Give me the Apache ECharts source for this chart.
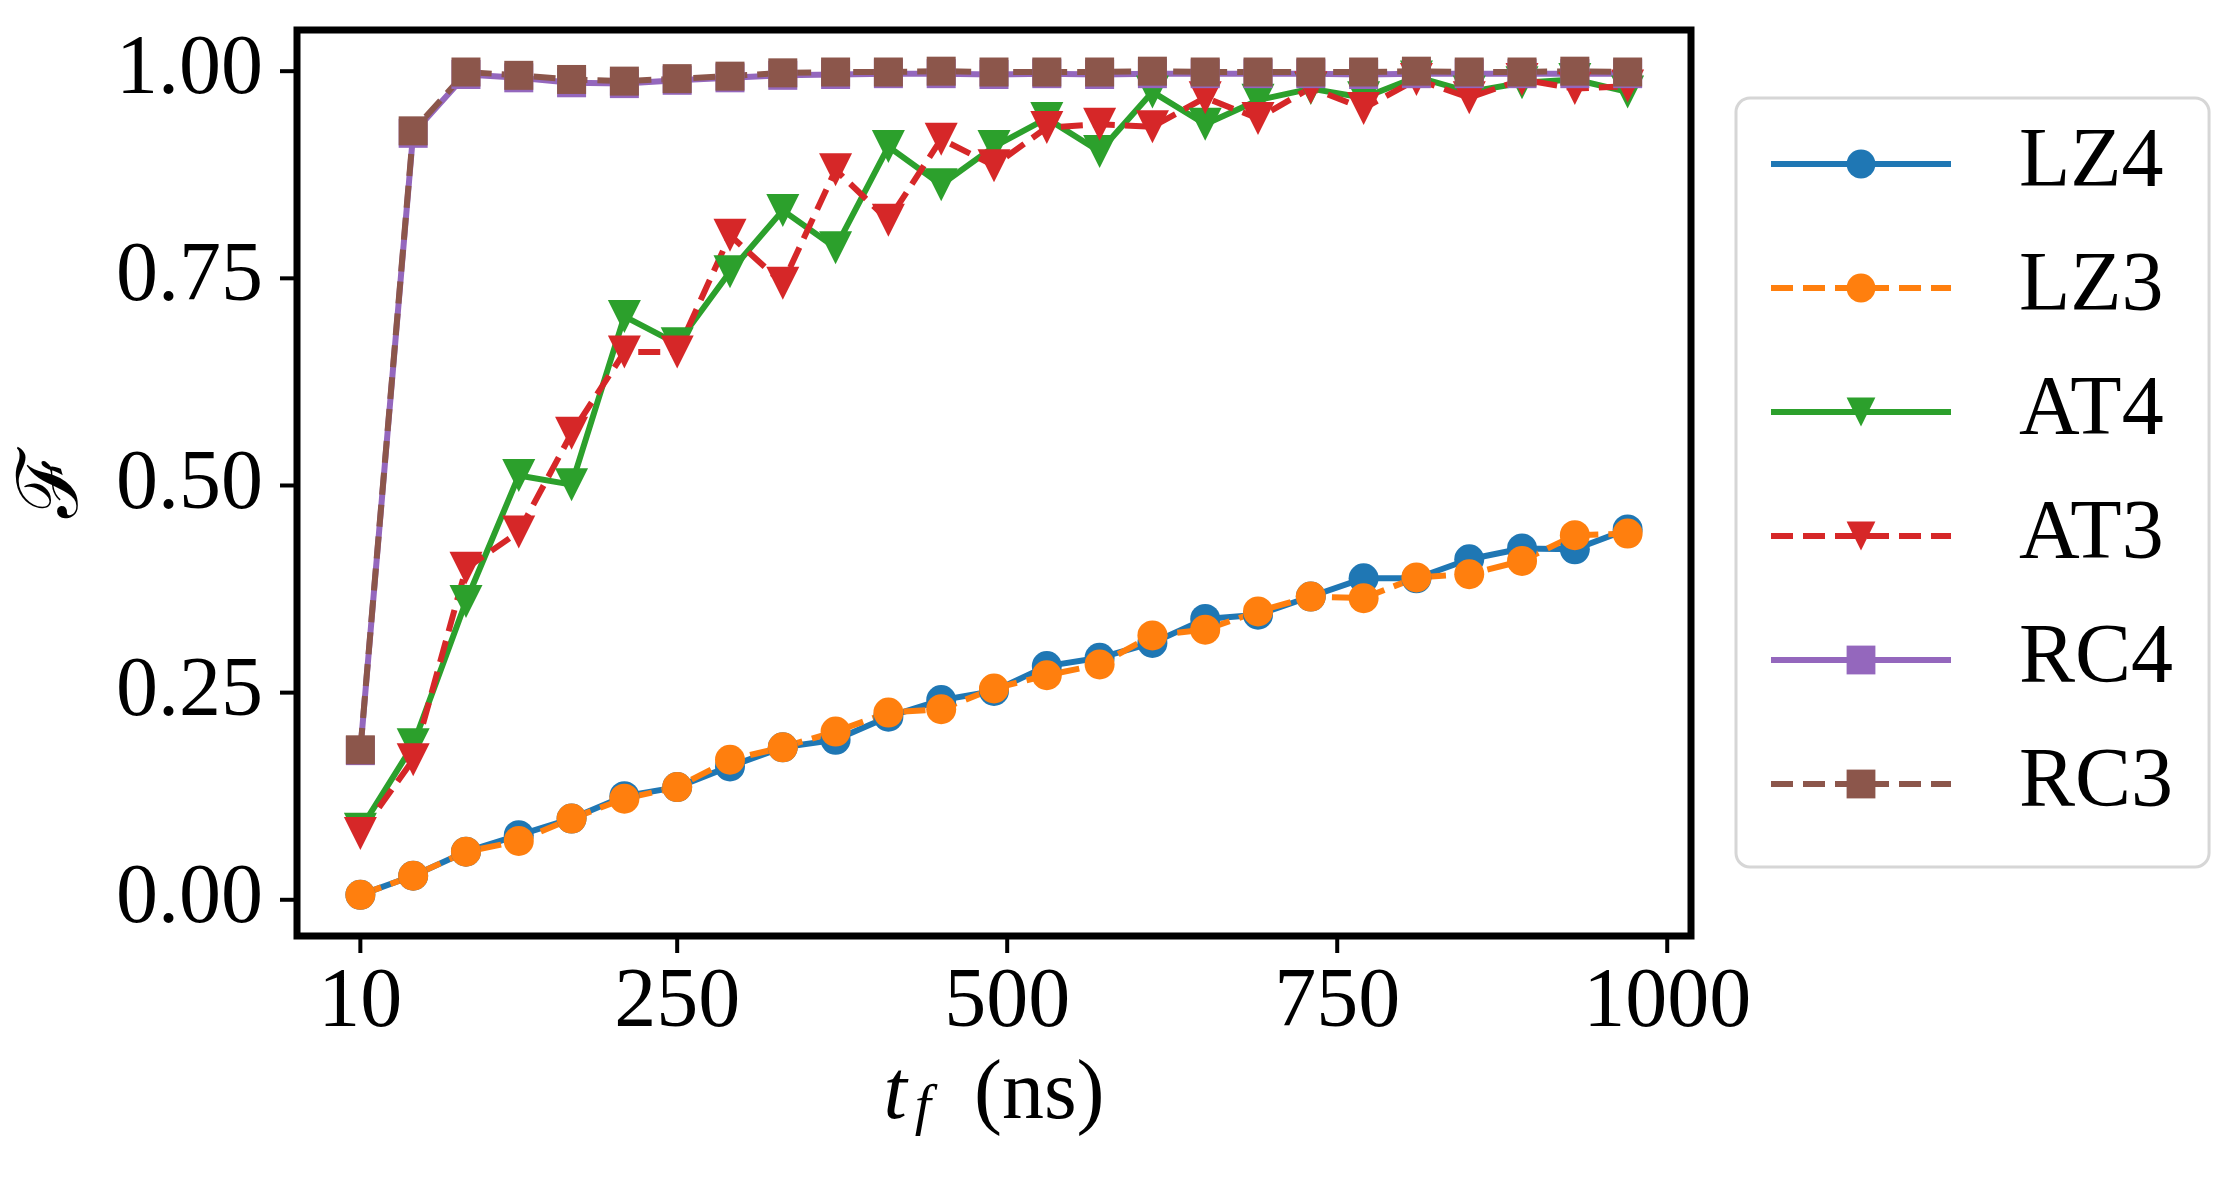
<!DOCTYPE html>
<html>
<head>
<meta charset="utf-8">
<title>fidelity vs tf</title>
<script src="https://cdn.jsdelivr.net/npm/echarts@6/dist/echarts.min.js"></script>
<style>
	html, body { margin: 0; padding: 0; background: #fff; }
	#main { width: 2236px; height: 1179px; }
</style>
</head>
<body>
<div id="main"></div>
<script>
var tf = [10, 50, 90, 130, 170, 210, 250, 290, 330, 370, 410, 450, 490,
	530, 570, 610, 650, 690, 730, 770, 810, 850, 890, 930, 970];

var lz4 = [0.006, 0.029, 0.058, 0.078, 0.098, 0.125, 0.136, 0.161, 0.184, 0.193, 0.221, 0.241, 0.252,
	0.282, 0.292, 0.310, 0.339, 0.344, 0.366, 0.388, 0.388, 0.411, 0.424, 0.423, 0.447];
var lz3 = [0.006, 0.029, 0.058, 0.071, 0.098, 0.122, 0.136, 0.169, 0.184, 0.203, 0.226, 0.230, 0.255,
	0.271, 0.284, 0.319, 0.326, 0.348, 0.366, 0.364, 0.389, 0.393, 0.409, 0.440, 0.442];
var at4 = [0.085, 0.187, 0.360, 0.512, 0.501, 0.704, 0.671, 0.758, 0.832, 0.787, 0.909, 0.863, 0.909,
	0.943, 0.903, 0.975, 0.936, 0.965, 0.979, 0.968, 0.993, 0.975, 0.986, 0.990, 0.975];
var at3 = [0.080, 0.169, 0.400, 0.444, 0.563, 0.661, 0.661, 0.802, 0.744, 0.881, 0.820, 0.918, 0.886,
	0.932, 0.936, 0.933, 0.968, 0.943, 0.980, 0.955, 0.990, 0.968, 0.990, 0.979, 0.982];
var rc4 = [0.180, 0.925, 0.996, 0.992, 0.986, 0.985, 0.989, 0.992, 0.995, 0.996, 0.997, 0.997, 0.996,
	0.997, 0.996, 0.997, 0.997, 0.997, 0.997, 0.996, 0.997, 0.997, 0.997, 0.997, 0.997];
var rc3 = [0.181, 0.928, 0.999, 0.995, 0.990, 0.988, 0.991, 0.994, 0.998, 0.999, 0.999, 1.000, 0.999,
	0.999, 0.999, 1.000, 0.999, 0.999, 0.999, 0.999, 1.000, 0.999, 0.999, 1.000, 0.999];

var xTicks = [10, 250, 500, 750, 1000];
var yTicks = [0, 0.25, 0.5, 0.75, 1.0];

var names = ['LZ4', 'LZ3', 'AT4', 'AT3', 'RC4', 'RC3'];
var colors = ['#1f77b4', '#ff7f0e', '#2ca02c', '#d62728', '#9467bd', '#8c564b'];

var serif = '"Liberation Serif", "DejaVu Serif", serif';
var downTri = 'path://M0,0 L2,0 L1,2 Z';
var xMin = -38, xMax = 1018, yMin = -0.0437, yMax = 1.0497;

function pairs(ys) {
	return tf.map(function(x, i) { return [x, ys[i]]; });
}

function makeSeries(name, ys, color, dashed, symbol, size) {
	return {
		name : name,
		type : 'line',
		data : pairs(ys),
		symbol : symbol,
		symbolSize : size,
		showAllSymbol : true,
		color : color,
		lineStyle : {
			width : 6,
			color : color,
			type : dashed ? [22, 10] : 'solid'
		},
		itemStyle : {
			color : color,
			borderWidth : 0
		},
		emphasis : { disabled : true }
	};
}

var chartDom = document.getElementById('main');
var myChart = echarts.init(chartDom);
var option;

option = {
	animation : false,
	backgroundColor : '#fff',
	grid : {
		left : 297,
		top : 30,
		width : 1394,
		height : 906,
		show : true,
		borderColor : '#000',
		borderWidth : 7,
		backgroundColor : 'transparent'
	},
	xAxis : {
		type : 'value',
		min : xMin,
		max : xMax,
		name : '{t|t}{f|f} (ns)',
		nameLocation : 'middle',
		nameGap : 118,
		nameTextStyle : {
			fontFamily : serif,
			fontSize : 84,
			color : '#000',
			rich : {
				t : { fontFamily : serif, fontStyle : 'italic', fontSize : 84, color : '#000' },
				f : { fontFamily : serif, fontStyle : 'italic', fontSize : 58, color : '#000',
					verticalAlign : 'bottom', padding : [0, 22, 0, 8] }
			}
		},
		axisLine : { show : false, onZero : false },
		splitLine : { show : false },
		axisTick : { show : false },
		axisLabel : {
			customValues : xTicks,
			margin : 26,
			fontFamily : serif,
			fontSize : 84,
			color : '#000',
			formatter : function(v) { return String(v); }
		}
	},
	yAxis : {
		type : 'value',
		min : yMin,
		max : yMax,
		name : 'ℱ',
		nameLocation : 'middle',
		nameGap : 200,
		nameTextStyle : {
			fontFamily : serif,
			fontSize : 84,
			color : '#000'
		},
		axisLine : { show : false, onZero : false },
		splitLine : { show : false },
		axisTick : { show : false },
		axisLabel : {
			customValues : yTicks,
			margin : 34,
			fontFamily : serif,
			fontSize : 84,
			color : '#000',
			formatter : function(v) { return v.toFixed(2); }
		}
	},
	legend : {
		orient : 'vertical',
		left : 1736,
		top : 98,
		data : names,
		itemWidth : 180,
		itemHeight : 36,
		itemGap : 40,
		padding : [24, 36, 41, 32],
		backgroundColor : '#fff',
		borderColor : '#d6d6d6',
		borderWidth : 3,
		borderRadius : 14,
		lineStyle : { width : 6 },
		textStyle : {
			fontFamily : serif,
			fontSize : 84,
			lineHeight : 84,
			color : '#000',
			padding : [0, 0, 0, 63]
		}
	},
	series : [
		makeSeries('LZ4', lz4, colors[0], false, 'circle', 30),
		makeSeries('LZ3', lz3, colors[1], true, 'circle', 30),
		makeSeries('AT4', at4, colors[2], false, downTri, 33),
		makeSeries('AT3', at3, colors[3], true, downTri, 33),
		makeSeries('RC4', rc4, colors[4], false, 'rect', 29),
		makeSeries('RC3', rc3, colors[5], true, 'rect', 29)
	]
};

option && myChart.setOption(option);

// outward tick marks, placed through the chart's own scales
var tickLen = 15;
var ticks = [];
xTicks.forEach(function(v) {
	var p = myChart.convertToPixel({ xAxisIndex : 0, yAxisIndex : 0 }, [v, yMin]);
	ticks.push({ type : 'line', silent : true, z : 100,
		shape : { x1 : p[0], y1 : p[1] + 2, x2 : p[0], y2 : p[1] + 2 + tickLen },
		style : { stroke : '#000', lineWidth : 4 } });
});
yTicks.forEach(function(v) {
	var p = myChart.convertToPixel({ xAxisIndex : 0, yAxisIndex : 0 }, [xMin, v]);
	ticks.push({ type : 'line', silent : true, z : 100,
		shape : { x1 : p[0] - 2, y1 : p[1], x2 : p[0] - 2 - tickLen, y2 : p[1] },
		style : { stroke : '#000', lineWidth : 4 } });
});
myChart.setOption({ graphic : { elements : ticks } });
</script>
</body>
</html>
